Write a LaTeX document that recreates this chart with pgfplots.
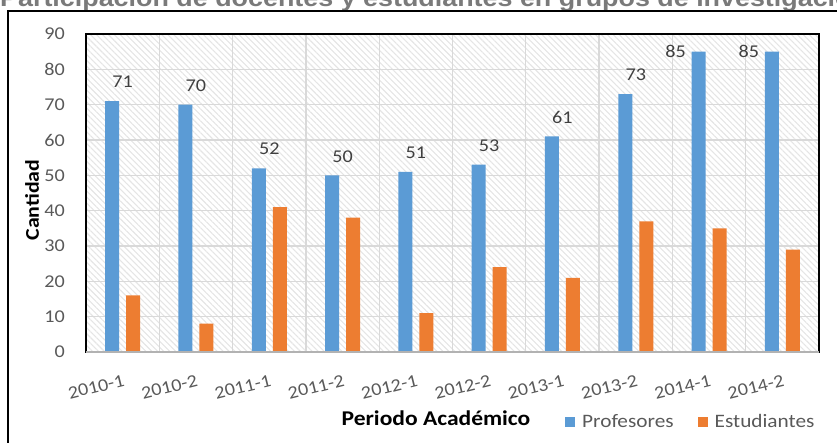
\documentclass[border=0pt]{standalone}
\usepackage{pgfplots}
\pgfplotsset{compat=1.18}
\usepackage{fontspec}
\setmainfont{Carlito}[FakeStretch=1.12]
\newfontfamily\titlefont{Liberation Sans}[FakeStretch=1.12]
\usetikzlibrary{patterns.meta}
\definecolor{blueC}{HTML}{5B9BD5}
\definecolor{orangeC}{HTML}{ED7D31}
\definecolor{txtgray}{HTML}{595959}
\definecolor{gridgray}{HTML}{D9D9D9}
\definecolor{lblgray}{HTML}{404040}
\definecolor{titlegray}{HTML}{7A7A7A}

\begin{document}
\begin{tikzpicture}
\useasboundingbox (0,0) rectangle (837bp,-443bp);
\clip (0,0) rectangle (837bp,-443bp);
\node[anchor=base west, inner sep=0pt, text=titlegray, font=\titlefont\bfseries\fontsize{24bp}{28bp}\selectfont] at (0bp,-6bp) {Participación de docentes y estudiantes en grupos de investigación};
\draw[line width=2bp, black] (8bp,-500bp) -- (8bp,-11bp) -- (900bp,-11bp);
\begin{axis}[
  at={(86bp,-352bp)}, anchor=south west,
  scale only axis, width=733bp, height=318bp,
  ymin=0, ymax=90, xmin=-0.5, xmax=9.5,
  ytick={0,10,...,90},
  xtick={0,...,9},
  xticklabels={2010-1,2010-2,2011-1,2011-2,2012-1,2012-2,2013-1,2013-2,2014-1,2014-2},
  minor xtick={0.5,1.5,...,8.5},
  xminorgrids=true, ymajorgrids=true,
  grid style={gridgray, line width=1.3bp},
  minor grid style={gridgray, line width=1.3bp},
  major tick length=0pt, minor tick length=0pt,
  axis line style={black, line width=1.5bp},
  axis background/.style={pattern={Lines[angle=-45,distance=4.2bp,line width=1.1bp]}, pattern color=black!10},
  /pgf/number format/assume math mode=true,
  tick label style={text=txtgray, font=\fontsize{18bp}{20bp}\selectfont},
  yticklabel style={xshift=-21bp, anchor=east, inner sep=0pt},
  xticklabel style={yshift=-22bp, rotate=14, anchor=north east, inner sep=0pt},
  xlabel={Periodo Académico}, ylabel={Cantidad},
  every axis x label/.style={at={(rel axis cs:0.4775,0)}, anchor=base, yshift=-73bp, inner sep=0pt, font=\bfseries\fontsize{21bp}{24bp}\selectfont},
  every axis y label/.style={at={(rel axis cs:0,0.478)}, xshift=-54bp, rotate=90, anchor=center, inner sep=0pt, font=\bfseries\fontsize{19.5bp}{22bp}\selectfont},
  legend columns=2,
  legend style={at={(rel axis cs:0.6535,0)}, anchor=west, yshift=-70bp, draw=none, fill=none, inner sep=0pt,
    font=\fontsize{19bp}{22bp}\selectfont, text=txtgray, column sep=7bp,
    /tikz/every even column/.append style={column sep=24bp}, nodes={inner sep=0pt}},
  legend image code/.code={\draw[#1, draw=none] (0bp,-5bp) rectangle (10bp,5bp);},
  after end axis/.code={\draw[black!30, line width=1.8bp] (rel axis cs:0,0) -- (rel axis cs:1,0);},
]
\addplot[ybar, bar width=14bp, bar shift=-10.5bp, fill=blueC, draw=none,
  nodes near coords,
  nodes near coords style={anchor=south, inner sep=0pt, yshift=13bp, text=lblgray, font=\fontsize{18bp}{20bp}\selectfont}]
  coordinates {(0,71) (1,70) (2,52) (3,50) (4,51) (5,53) (6,61) (7,73)};
\addlegendentry{Profesores}
\addplot[ybar, bar width=14bp, bar shift=-10.5bp, fill=blueC, draw=none, forget plot,
  nodes near coords,
  nodes near coords style={anchor=east, inner sep=0pt, xshift=-23bp, text=lblgray, font=\fontsize{18bp}{20bp}\selectfont}]
  coordinates {(8,85) (9,85)};
\addplot[ybar, bar width=14bp, bar shift=10.5bp, fill=orangeC, draw=none]
  coordinates {(0,16) (1,8) (2,41) (3,38) (4,11) (5,24) (6,21) (7,37) (8,35) (9,29)};
\addlegendentry{Estudiantes}
\end{axis}
\end{tikzpicture}
\end{document}
